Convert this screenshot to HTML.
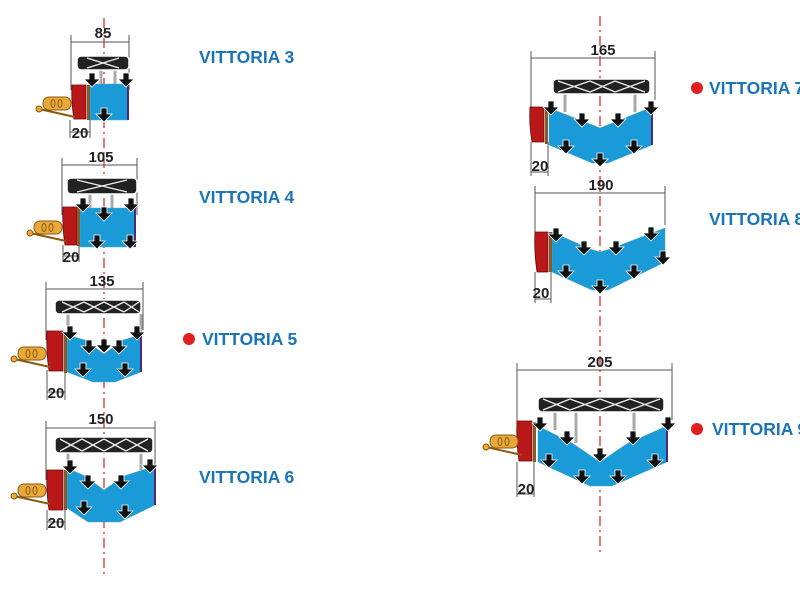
<!DOCTYPE html>
<html><head><meta charset="utf-8"><style>
html,body{margin:0;padding:0;background:#fff;width:800px;height:600px;overflow:hidden}
svg{display:block}
.t{font-family:"Liberation Sans",sans-serif;font-weight:bold;font-size:17.5px;fill:#1a74b8}
.d{font-family:"Liberation Sans",sans-serif;font-weight:bold;font-size:15px;fill:#222}
</style></head><body>
<svg width="800" height="600" viewBox="0 0 800 600" xmlns="http://www.w3.org/2000/svg">
<defs>
<g id="ar"><path d="M-3,-7 h6 v6 h5 l-8,8 l-8,-8 h5z" fill="#111" stroke="#fff" stroke-width="0.8"/></g>
<g id="trac">
<rect x="-32" y="0" width="28" height="13" rx="6" fill="#e8a93a" stroke="#8a5a10" stroke-width="1"/>
<ellipse cx="-22" cy="6.5" rx="2" ry="4" fill="none" stroke="#8a5a10"/>
<ellipse cx="-15" cy="6.5" rx="2" ry="4" fill="none" stroke="#8a5a10"/>
<line x1="-36" y1="12" x2="0" y2="20" stroke="#8a5a10" stroke-width="2"/>
<circle cx="-36" cy="12" r="3" fill="#e8a93a" stroke="#8a5a10"/>
</g>
</defs>
<line x1="104" y1="18" x2="104" y2="578" stroke="#d42020" stroke-width="1.2" stroke-dasharray="10,4,2,4"/>
<line x1="600" y1="16" x2="600" y2="555" stroke="#d42020" stroke-width="1.2" stroke-dasharray="10,4,2,4"/>

<g stroke="#555" stroke-width="1" fill="none">
<path d="M71,35V90M129,35V90M71,42H129"/>
<path d="M62,158V215M137,158V215M62,165H137"/>
<path d="M46,282V340M143,282V330M46,289H143"/>
<path d="M46,421V480M155,421V465M46,428H155"/>
<path d="M531,51V112M655,51V100M531,58H655"/>
<path d="M535,186V240M665,186V225M535,193H665"/>
<path d="M517,363V425M672,363V420M517,370H672"/>
<path d="M70,120V138M90,120V138M70,132H90"/>
<path d="M63,245V262M79,245V262M63,256H79"/>
<path d="M47,370V400M65,370V400M47,392H65"/>
<path d="M47,510V530M65,510V530M47,522H65"/>
<path d="M531,142V176M548,142V176M531,172H548"/>
<path d="M535,272V303M551,272V303M535,299H551"/>
<path d="M517,462V497M534,462V497M517,494H534"/>
</g>
<g class="d" text-anchor="middle">
<text x="103" y="38">85</text><text x="101" y="162">105</text><text x="102" y="286">135</text><text x="101" y="424">150</text>
<text x="603" y="55">165</text><text x="601" y="190">190</text><text x="600" y="367">205</text>
<text x="80" y="138">20</text><text x="71" y="262">20</text><text x="56" y="398">20</text><text x="56" y="528">20</text>
<text x="540" y="171">20</text><text x="541" y="298">20</text><text x="526" y="494">20</text>
</g>

<g stroke="#aaa" stroke-width="3">
<path d="M101,70V88M115,70V88M90,194V212M112,194V212M68,314V335M141,314V335M68,453V470M141,453V470M565,94V112M635,94V112M555,412V430M576,412V443M634,412V443"/>
</g>
<g fill="#222" stroke="#fff" stroke-width="1.5">
<rect x="77" y="56" width="52" height="14" rx="4"/>
<rect x="67" y="178" width="70" height="16" rx="4"/>
<rect x="55" y="300" width="86" height="14" rx="4"/>
<rect x="55" y="437" width="98" height="16" rx="4"/>
<rect x="553" y="79" width="97" height="15" rx="4"/>
<rect x="538" y="397" width="126" height="15" rx="4"/>
</g>
<g stroke="#eee" stroke-width="1.3" fill="none">
<path d="M87,58L119,68M87,68L119,58"/>
<path d="M77,180L127,192M77,192L127,180"/>
<path d="M62,302L84,312M62,312L84,302M84,302L104,312M84,312L104,302M104,302L124,312M104,312L124,302M124,302L139,312M124,312L139,302"/>
<path d="M60,439L82,451M60,451L82,439M82,439L104,451M82,451L104,439M104,439L126,451M104,451L126,439M126,439L148,451M126,451L148,439"/>
<path d="M558,81L590,92M558,92L590,81M590,81L615,92M590,92L615,81M615,81L645,92M615,92L645,81"/>
<path d="M543,399L570,410M543,410L570,399M570,399L600,410M570,410L600,399M600,399L630,410M600,410L630,399M630,399L660,410M630,410L660,399"/>
</g>
<g fill="#1b9ad8" stroke="#5aa" stroke-width="0.5">
<rect x="90" y="84" width="38" height="36"/>
<rect x="80" y="208" width="55" height="39"/>
<polygon points="67,335 85,340 104,354 123,340 141,335 141,372 115,382 93,382 67,372"/>
<polygon points="67,468 85,476 104,490 124,476 155,466 155,505 120,522 88,522 67,508"/>
<polygon points="549,108 585,122 600,128 615,122 652,107 652,145 608,163 592,163 549,145"/>
<polygon points="552,232 590,249 600,252 610,249 665,228 665,262 608,290 592,290 552,272"/>
<polygon points="538,426 572,443 600,462 628,443 667,426 667,462 612,486 590,486 538,462"/>
</g>
<g stroke="#4a2a7a" stroke-width="2">
<path d="M128,84V120M135,208V247M141,335V372M155,466V505M652,107V145M667,426V462"/>
</g>
<g fill="#b81818" stroke="#6a0808" stroke-width="0.8">
<path d="M72,85h14v34h-12q-3-17-2-34z"/>
<path d="M63,207h14v38h-12q-3-19-2-38z"/>
<path d="M47,331h16v40h-14q-3-20-2-40z"/>
<path d="M47,470h16v40h-14q-3-20-2-40z"/>
<path d="M530,107h14v35h-12q-3-17-2-35z"/>
<path d="M535,232h13v40h-11q-3-20-2-40z"/>
<path d="M517,421h15v40h-13q-3-20-2-40z"/>
</g>
<g fill="#8a5a2a">
<rect x="87" y="85" width="3" height="35"/><rect x="77" y="208" width="3" height="38"/><rect x="64" y="333" width="3" height="40"/><rect x="64" y="470" width="3" height="40"/>
<rect x="545" y="108" width="3" height="36"/><rect x="549" y="232" width="3" height="40"/><rect x="533" y="422" width="3" height="40"/>
</g>
<use href="#trac" x="75" y="97"/>
<use href="#trac" x="66" y="221"/>
<use href="#trac" x="50" y="347"/>
<use href="#trac" x="50" y="484"/>
<use href="#trac" x="522" y="435"/>
<g>
<use href="#ar" x="92" y="80"/><use href="#ar" x="126" y="80"/><use href="#ar" x="104" y="115"/>
<use href="#ar" x="83" y="205"/><use href="#ar" x="131" y="205"/><use href="#ar" x="97" y="242"/><use href="#ar" x="130" y="242"/><use href="#ar" x="104" y="214"/>
<use href="#ar" x="70" y="333"/><use href="#ar" x="89" y="347"/><use href="#ar" x="104" y="346"/><use href="#ar" x="119" y="347"/><use href="#ar" x="137" y="333"/><use href="#ar" x="83" y="370"/><use href="#ar" x="125" y="370"/>
<use href="#ar" x="70" y="467"/><use href="#ar" x="88" y="482"/><use href="#ar" x="121" y="482"/><use href="#ar" x="150" y="466"/><use href="#ar" x="84" y="508"/><use href="#ar" x="125" y="512"/>
<use href="#ar" x="551" y="108"/><use href="#ar" x="582" y="120"/><use href="#ar" x="618" y="120"/><use href="#ar" x="651" y="108"/><use href="#ar" x="566" y="147"/><use href="#ar" x="634" y="147"/><use href="#ar" x="600" y="160"/>
<use href="#ar" x="556" y="235"/><use href="#ar" x="584" y="248"/><use href="#ar" x="616" y="248"/><use href="#ar" x="651" y="234"/><use href="#ar" x="663" y="258"/><use href="#ar" x="566" y="272"/><use href="#ar" x="634" y="272"/><use href="#ar" x="600" y="287"/>
<use href="#ar" x="540" y="424"/><use href="#ar" x="567" y="438"/><use href="#ar" x="600" y="455"/><use href="#ar" x="633" y="438"/><use href="#ar" x="668" y="424"/><use href="#ar" x="549" y="461"/><use href="#ar" x="582" y="477"/><use href="#ar" x="618" y="477"/><use href="#ar" x="655" y="461"/>
</g>
<text class="t" x="199" y="63">VITTORIA 3</text>
<text class="t" x="199" y="203">VITTORIA 4</text>
<circle cx="189" cy="339" r="6" fill="#e02020"/>
<text class="t" x="202" y="345">VITTORIA 5</text>
<text class="t" x="199" y="483">VITTORIA 6</text>
<circle cx="697" cy="88" r="6" fill="#e02020"/>
<text class="t" x="709" y="94">VITTORIA 7</text>
<text class="t" x="709" y="225">VITTORIA 8</text>
<circle cx="697" cy="429" r="6" fill="#e02020"/>
<text class="t" x="712" y="435">VITTORIA 9</text>
</svg>
</body></html>
